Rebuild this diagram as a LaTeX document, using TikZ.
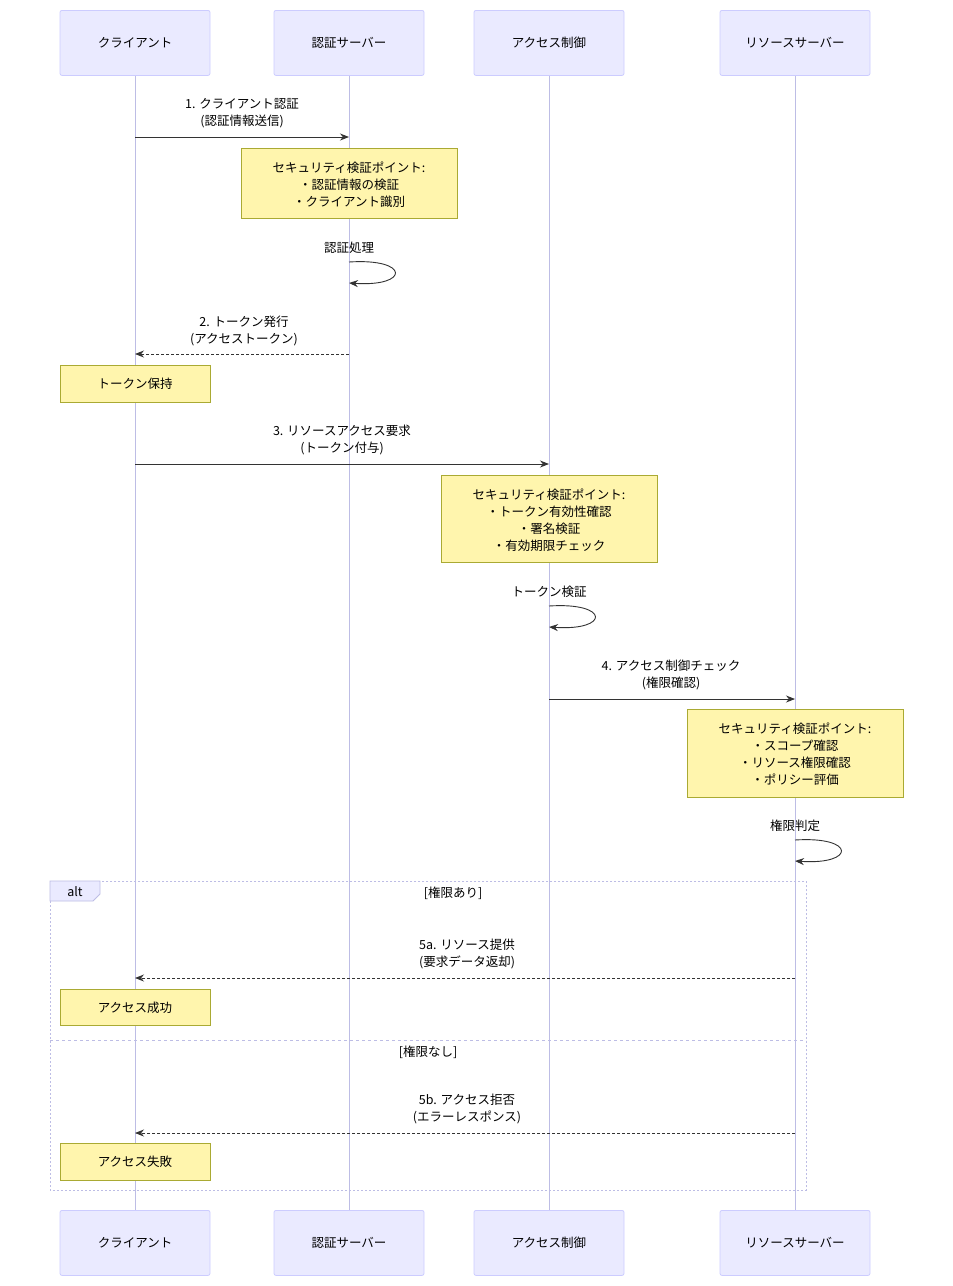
\documentclass[tikz,border=0pt]{standalone}
\usepackage{fontspec}
\setmainfont{Noto Sans CJK JP}
\usetikzlibrary{arrows.meta}
\definecolor{actfill}{HTML}{EAEAFF}
\definecolor{actline}{HTML}{CCCCFF}
\definecolor{notefill}{HTML}{FFF5AD}
\definecolor{noteline}{HTML}{AAAA33}
\definecolor{txt}{HTML}{333333}
\begin{document}
\begin{tikzpicture}[x=1pt,y=-1pt,
  every node/.style={font=\fontsize{12.5}{14}\selectfont, text=black},
  actor/.style={draw=actline,fill=actfill,rounded corners=2pt,minimum width=150pt,minimum height=65pt,anchor=north,line width=0.8pt},
  note/.style={draw=noteline,fill=notefill,anchor=north west,line width=0.6pt,inner sep=0pt},
  lbl/.style={align=center,font=\fontsize{12.5}{17}\selectfont},
  msg/.style={draw=txt,line width=0.9pt,-{Stealth[length=9pt,width=7pt]}},
  ret/.style={msg,dash pattern=on 3pt off 2pt},
  life/.style={draw=actline!80!gray,line width=1pt}]
\useasboundingbox (0,0) rectangle (953,1286);
\fill[white] (0,0) rectangle (953,1286);
% lifelines
\foreach \x/\n in {135/a,349/b,549/c,795/d}{
  \coordinate (\n t) at (\x,75); \coordinate (\n b) at (\x,1210);
  \draw[life] (\n t) -- (\n b);}
% actors
\foreach \x/\n/\t in {135/a/クライアント,349/b/認証サーバー,549/c/アクセス制御,795/d/リソースサーバー}{
  \node[actor] (\n top) at (\x,10) {\t};
  \node[actor] (\n bot) at (\x,1210) {\t};}
% alt frame
\draw[actline!80!gray,dash pattern=on 2pt off 2pt,line width=0.8pt] (50,881) rectangle (806,1190);
\draw[actline!80!gray,fill=actfill,line width=0.8pt] (50,881) -- (100,881) -- (100,894) -- (93,901) -- (50,901) -- cycle;
\node (alt) at (75,892) {alt};
\node (c1) at (453,893) {[権限あり]};
\draw[actline!80!gray,dash pattern=on 3pt off 3pt,line width=0.8pt] (50,1040) -- (806,1040);
\node (c2) at (428,1052) {[権限なし]};
% 1
\coordinate (m1a) at (135,137); \coordinate (m1b) at (349,137);
\draw[msg] (m1a) -- (m1b);
\node[lbl] (l1) at (242,113) {1. クライアント認証\\(認証情報送信)};
\node[note,minimum width=216pt,minimum height=70pt] (n1) at (241,148) {};
\node[lbl] (n1t) at (349,185) {セキュリティ検証ポイント:\\・認証情報の検証\\・クライアント識別};
% self 1
\node (s1) at (349,248) {認証処理};
\coordinate (s1a) at (349,262); \coordinate (s1b) at (349,283);
\draw[msg] (s1a) .. controls (410,258) and (410,287) .. (s1b);
% 2
\coordinate (m2a) at (349,354); \coordinate (m2b) at (135,354);
\draw[ret] (m2a) -- (m2b);
\node[lbl] (l2) at (244,331) {2. トークン発行\\(アクセストークン)};
\node[note,minimum width=150pt,minimum height=37pt] (n2) at (60,365) {};
\node (n2t) at (135,384) {トークン保持};
% 3
\coordinate (m3a) at (135,464); \coordinate (m3b) at (549,464);
\draw[msg] (m3a) -- (m3b);
\node[lbl] (l3) at (342,440) {3. リソースアクセス要求\\(トークン付与)};
\node[note,minimum width=216pt,minimum height=87pt] (n3) at (441,475) {};
\node[lbl] (n3t) at (549,520) {セキュリティ検証ポイント:\\・トークン有効性確認\\・署名検証\\・有効期限チェック};
\node (s2) at (549,592) {トークン検証};
\coordinate (s2a) at (549,606); \coordinate (s2b) at (549,627);
\draw[msg] (s2a) .. controls (610,602) and (610,631) .. (s2b);
% 4
\coordinate (m4a) at (549,699); \coordinate (m4b) at (795,699);
\draw[msg] (m4a) -- (m4b);
\node[lbl] (l4) at (671,675) {4. アクセス制御チェック\\(権限確認)};
\node[note,minimum width=216pt,minimum height=88pt] (n4) at (687,709) {};
\node[lbl] (n4t) at (795,754) {セキュリティ検証ポイント:\\・スコープ確認\\・リソース権限確認\\・ポリシー評価};
\node (s3) at (795,826) {権限判定};
\coordinate (s3a) at (795,840); \coordinate (s3b) at (795,861);
\draw[msg] (s3a) .. controls (856,836) and (856,865) .. (s3b);
% 5a
\coordinate (m5a) at (795,978); \coordinate (m5b) at (135,978);
\draw[ret] (m5a) -- (m5b);
\node[lbl] (l5) at (467,954) {5a. リソース提供\\(要求データ返却)};
\node[note,minimum width=150pt,minimum height=36pt] (n5) at (60,989) {};
\node (n5t) at (135,1008) {アクセス成功};
% 5b
\coordinate (m6a) at (795,1133); \coordinate (m6b) at (135,1133);
\draw[ret] (m6a) -- (m6b);
\node[lbl] (l6) at (467,1109) {5b. アクセス拒否\\(エラーレスポンス)};
\node[note,minimum width=150pt,minimum height=37pt] (n6) at (60,1143) {};
\node (n6t) at (135,1162) {アクセス失敗};
\end{tikzpicture}
\end{document}
